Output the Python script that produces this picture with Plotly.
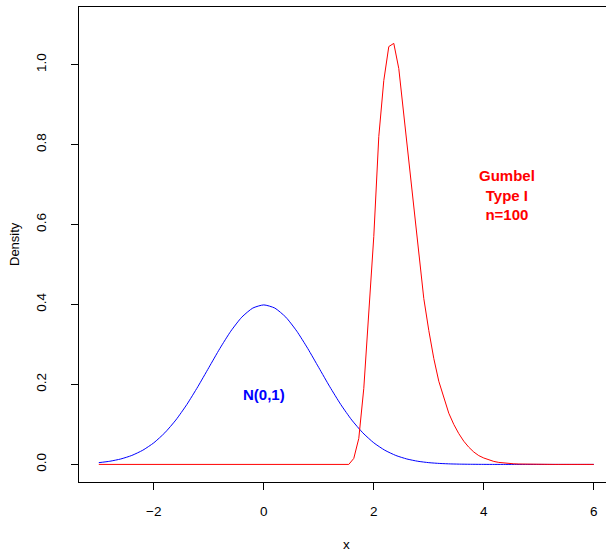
import numpy as np
import plotly.graph_objects as go

# Standard normal density N(0,1), read at x = -3, -2.8, ..., 6
norm_x = np.linspace(-3, 6, 46)
norm_y = [0.0044, 0.0079, 0.0136, 0.0224, 0.0355, 0.0540, 0.0790, 0.1109, 0.1497, 0.1942,
          0.2420, 0.2897, 0.3332, 0.3683, 0.3910, 0.3989, 0.3910, 0.3683, 0.3332, 0.2897,
          0.2420, 0.1942, 0.1497, 0.1109, 0.0790, 0.0540, 0.0355, 0.0224, 0.0136, 0.0079,
          0.0044, 0.0024, 0.0012, 0.0006, 0.0003, 0.0001, 0.0, 0.0, 0.0, 0.0,
          0.0, 0.0, 0.0, 0.0, 0.0, 0.0]

# Gumbel Type I density (n=100), read at 100 equally spaced x in [-3, 6]
gumbel_x = np.linspace(-3, 6, 100)
gumbel_y = [0.0] * 51 + [
    0.015, 0.065, 0.19, 0.38, 0.57, 0.82, 0.96, 1.045, 1.053, 0.99,
    0.875, 0.76, 0.64, 0.52, 0.415, 0.335, 0.265, 0.208, 0.165, 0.128,
    0.10, 0.077, 0.058, 0.043, 0.031, 0.022, 0.016, 0.011, 0.0075, 0.005,
    0.0034, 0.0023, 0.0015, 0.001, 0.0006, 0.0004, 0.0002, 0.0001, 0.0001, 0.0,
    0.0, 0.0, 0.0, 0.0, 0.0, 0.0, 0.0, 0.0, 0.0]

x_ticks = [-2, 0, 2, 4, 6]
x_tick_labels = ["\u22122", "0", "2", "4", "6"]
y_ticks = [0.0, 0.2, 0.4, 0.6, 0.8, 1.0]
y_tick_labels = ["0.0", "0.2", "0.4", "0.6", "0.8", "1.0"]

FONT = "Liberation Sans, Arial, Helvetica, sans-serif"

fig = go.Figure()
fig.add_trace(go.Scatter(x=norm_x, y=norm_y, mode="lines",
                         line=dict(color="#0000FF", width=1, shape="spline", smoothing=0.6),
                         showlegend=False))
fig.add_trace(go.Scatter(x=gumbel_x, y=gumbel_y, mode="lines",
                         line=dict(color="#FF0000", width=1), showlegend=False))

fig.add_annotation(x=0, y=0.175, text="<b>N(0,1)</b>", showarrow=False,
                   font=dict(family=FONT, size=15, color="#0000FF"))
fig.add_annotation(x=4.43, y=0.675, text="<b>Gumbel<br>Type I<br>n=100</b>", showarrow=False,
                   align="center", font=dict(family=FONT, size=15, color="#FF0000"))

# axis titles
fig.add_annotation(x=1.5, y=0, xref="x", yref="paper", yshift=-72, text="x",
                   showarrow=False, font=dict(family=FONT, size=13.5, color="black"))
fig.add_annotation(x=0, y=0.55, xref="paper", yref="y", xshift=-74, text="Density",
                   textangle=-90, showarrow=False, font=dict(family=FONT, size=13, color="black"))

fig.update_layout(
    width=606, height=553,
    margin=dict(l=79, r=0, t=7, b=71, autoexpand=False),
    paper_bgcolor="white", plot_bgcolor="white",
    font=dict(family=FONT, size=13.5, color="black"),
    xaxis=dict(range=[-3.36, 6.222], showgrid=False, zeroline=False, automargin=False,
               showline=True, linecolor="black", linewidth=1, mirror=True,
               ticks="outside", ticklen=7, tickcolor="black", tickwidth=1,
               tickvals=x_ticks, ticktext=x_tick_labels, ticklabelstandoff=10),
    yaxis=dict(range=[-0.044, 1.144], showgrid=False, zeroline=False, automargin=False,
               showline=True, linecolor="black", linewidth=1, mirror=False,
               ticks="outside", ticklen=7, tickcolor="black", tickwidth=1,
               tickvals=y_ticks, ticktext=y_tick_labels, tickangle=-90,
               ticklabelstandoff=20),
)

fig.write_html("out.html", config={"displayModeBar": False},
               post_script="document.body.style.margin='0';document.body.style.padding='0';")
